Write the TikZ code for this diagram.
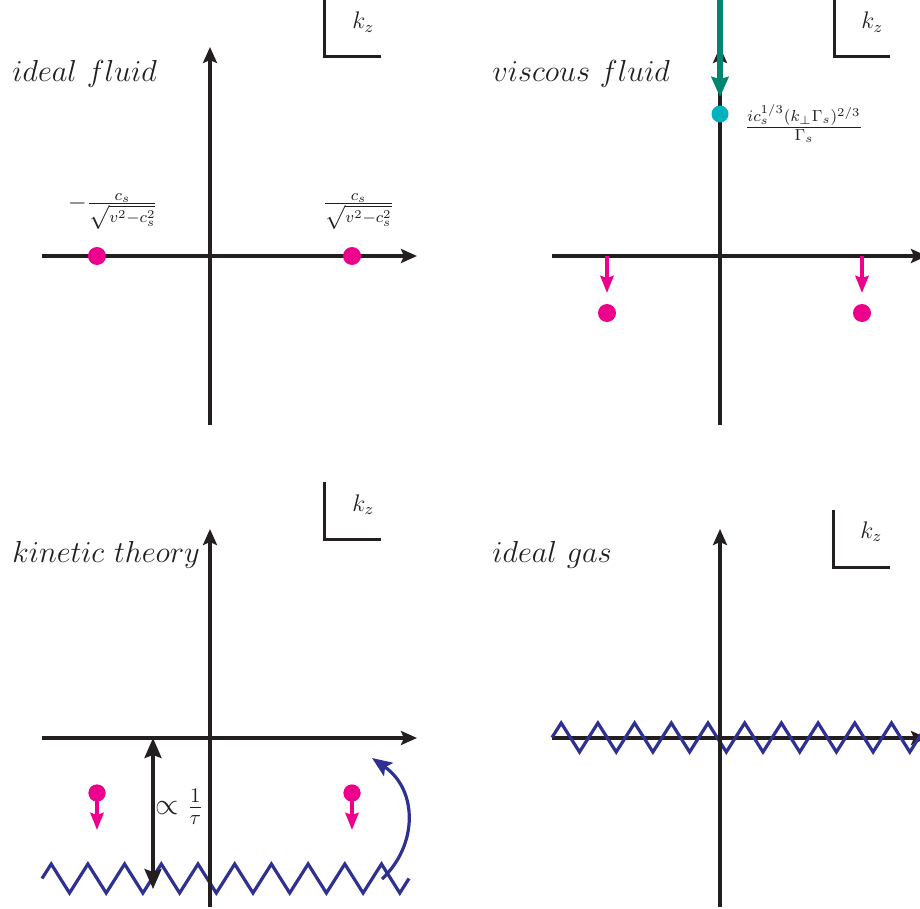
\documentclass[tikz,border=0pt]{standalone}
\usetikzlibrary{arrows.meta}
\definecolor{axblack}{RGB}{35,31,32}
\definecolor{pinkdot}{RGB}{236,0,140}
\definecolor{cyandot}{RGB}{0,178,190}
\definecolor{tealarrow}{RGB}{0,133,110}
\definecolor{zigblue}{RGB}{46,49,146}
\begin{document}
\begin{tikzpicture}[x=0.5pt,y=-0.5pt,
 axis/.style={draw=axblack, line width=1.6pt, -{Stealth[length=8pt,width=7pt,inset=1.5pt]}},
 kbox/.style={draw=axblack, line width=1.5pt},
 pdot/.style={circle, fill=pinkdot, inner sep=0pt, minimum size=9pt},
 cdot/.style={circle, fill=cyandot, inner sep=0pt, minimum size=8.5pt},
 parr/.style={draw=pinkdot, line width=2pt, -{Stealth[length=8.5pt,width=6.5pt,inset=1pt]}},
 zig/.style={draw=zigblue, line width=1.6pt, line join=miter},
 title/.style={anchor=base west, font=\fontsize{14.4}{18}\selectfont, scale=1.055, text=axblack, inner sep=0pt},
 kz/.style={anchor=base west, font=\fontsize{12}{14}\selectfont, text=axblack, inner sep=0pt},
 lbl/.style={font=\fontsize{12}{15}\selectfont, text=axblack, inner sep=0pt},
]
\useasboundingbox (0,0) rectangle (920,909);
\clip (0,0) rectangle (920,909);

% ---------------- top-left: ideal fluid
\coordinate (tlx0) at (42,256);  \coordinate (tlx1) at (417,256);
\coordinate (tly0) at (210,425); \coordinate (tly1) at (210,47);
\draw[axis] (tlx0) -- (tlx1);
\draw[axis] (tly0) -- (tly1);
\draw[kbox] (324,0) -- (324,57) -- (381,57);
\node[kz] (tlkz) at (352,29) {$k_z$};
\node[title] (tltitle) at (12,82) {$ideal~fluid$};
\node[pdot] (tlp1) at (97,256) {};
\node[pdot] (tlp2) at (352,256) {};
\node[lbl, anchor=base] (tll1) at (113,209.5) {$-\frac{c_s}{\sqrt{v^2-c_s^2}}$};
\node[lbl, anchor=base] (tll2) at (358.5,209.5) {$\frac{c_s}{\sqrt{v^2-c_s^2}}$};

% ---------------- top-right: viscous fluid
\coordinate (trx0) at (552,256);  \coordinate (trx1) at (927,256);
\coordinate (try0) at (720,425); \coordinate (try1) at (720,47);
\draw[axis] (trx0) -- (trx1);
\draw[axis] (try0) -- (try1);
\draw[kbox] (834,0) -- (834,57) -- (890,57);
\node[kz] (trkz) at (861,29) {$k_z$};
\node[title] (trtitle) at (492,82) {$viscous~fluid$};
\coordinate (trg0) at (720,0); \coordinate (trg1) at (720,97);
\draw[draw=tealarrow, line width=3pt, -{Stealth[length=10pt,width=8.5pt,inset=1pt]}] (trg0) -- (trg1);
\node[cdot] (trc) at (720,114) {};
\node[font=\fontsize{10.95}{13}\selectfont, text=axblack, inner sep=0pt, anchor=base] (trl) at (804,132.5) {$\frac{ic_s^{1/3}(k_\perp\Gamma_s)^{2/3}}{\Gamma_s}$};
\coordinate (tra1) at (607,256); \coordinate (tra1e) at (607,293);
\coordinate (tra2) at (862,256); \coordinate (tra2e) at (862,293);
\draw[parr] (tra1) -- (tra1e);
\draw[parr] (tra2) -- (tra2e);
\node[pdot] (trp1) at (607,313) {};
\node[pdot] (trp2) at (862,313) {};

% ---------------- bottom-left: kinetic theory
\draw[zig] (42,878.5) \foreach \k in {0,...,9} { -- ({51.2+36.7*\k},864) -- ({69.5+36.7*\k},893) } -- (409,878.5);
\coordinate (blx0) at (42,738);  \coordinate (blx1) at (417,738);
\coordinate (bly0) at (210,907); \coordinate (bly1) at (210,529);
\draw[axis] (blx0) -- (blx1);
\draw[axis] (bly0) -- (bly1);
\draw[kbox] (324,482) -- (324,539) -- (381,539);
\node[kz] (blkz) at (352,511) {$k_z$};
\node[title] (bltitle) at (12,562) {$kinetic~theory$};
\coordinate (bld0) at (153,738); \coordinate (bld1) at (153,889);
\draw[draw=axblack, line width=1.6pt, {Stealth[length=10pt,width=8.5pt,inset=1.5pt]}-{Stealth[length=10pt,width=8.5pt,inset=1.5pt]}] (bld0) -- (bld1);
\node[font=\fontsize{14.4}{18}\selectfont, scale=1.04, text=axblack, inner sep=0pt, anchor=base west] (bllab) at (155,814.5) {$\propto\frac{1}{\tau}$};
\node[pdot, minimum size=8.5pt] (blp1) at (97,793) {};
\node[pdot, minimum size=8.5pt] (blp2) at (352,793) {};
\coordinate (blp1e) at (97,830); \coordinate (blp2e) at (352,830);
\draw[parr] (blp1.center) -- (blp1e);
\draw[parr] (blp2.center) -- (blp2e);
\node[pdot, minimum size=8.5pt] at (blp1) {};
\node[pdot, minimum size=8.5pt] at (blp2) {};
\coordinate (blc0) at (382,879); \coordinate (blc1) at (372,758);
\draw[zig, -{Stealth[length=10pt,width=8pt,inset=2pt]}] (blc0) .. controls (418,845) and (418,790) .. (blc1);

% ---------------- bottom-right: ideal gas
\coordinate (brx0) at (552,738);  \coordinate (brx1) at (927,738);
\coordinate (bry0) at (720,907); \coordinate (bry1) at (720,529);
\draw[axis] (brx0) -- (brx1);
\draw[zig] (552,737.5) \foreach \k in {0,...,10} { -- ({561.2+36.7*\k},723) -- ({579.5+36.7*\k},752) } -- (955,737.5);
\draw[axis] (bry0) -- (bry1);
\draw[kbox] (833,510) -- (833,567) -- (890,567);
\node[kz] (brkz) at (860,538) {$k_z$};
\node[title] (brtitle) at (492,562) {$ideal~gas$};
\end{tikzpicture}
\end{document}
